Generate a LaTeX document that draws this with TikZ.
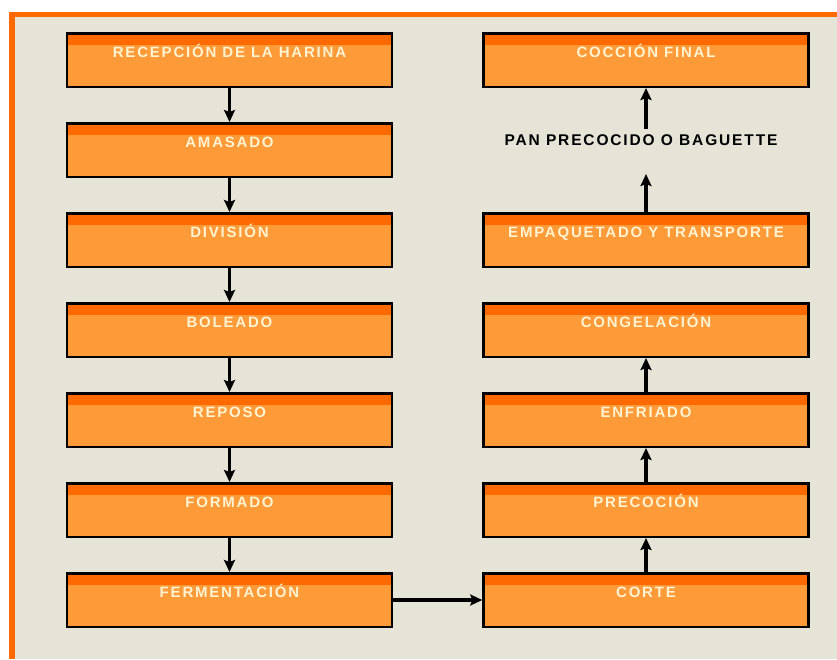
\documentclass[tikz,border=0pt]{standalone}
\usepackage{fontspec}
\setmainfont{Liberation Sans}
\newfontfamily\stepfont[LetterSpace=12]{Liberation Sans}
\usepackage{tikz}
\usetikzlibrary{positioning, calc, arrows.meta}

\definecolor{framebg}{HTML}{E6E4D6}
\definecolor{frameline}{HTML}{FF6A00}
\definecolor{boxfill}{HTML}{FF9A38}
\definecolor{boxband}{HTML}{FF6A00}
\definecolor{boxtext}{HTML}{FFF3D2}

\begin{document}
\begin{tikzpicture}[
  x=1pt, y=-1pt,
  node distance=34pt,
  >={Stealth[length=12pt, width=11pt, inset=2pt]},
  stepbox/.style={rectangle, draw=black, line width=2.5pt, fill=boxfill,
                  minimum width=325pt, text=boxtext,
                  font=\stepfont\bfseries\fontsize{15}{15}\selectfont,
                  text height=10.5pt, text depth=15pt, inner ysep=14pt,
                  path picture={\fill[boxband] (path picture bounding box.north west)
                    rectangle ([yshift=-12pt]path picture bounding box.north east);}},
  flow/.style={->, line width=3.5pt, black},
  outlabel/.style={font=\stepfont\bfseries\fontsize{15.5}{15.5}\selectfont, text=black}
]

% --- background and frame ---
\useasboundingbox (0,0) rectangle (837,659);
\fill[white] (0,0) rectangle (837,659);
\fill[frameline] (9,12) rectangle (837,659);
\fill[framebg] (15,17) rectangle (837,659);

% --- left column ---
\node[stepbox] (recep) at (229.5,60) {RECEPCIÓN DE LA HARINA};
\node[stepbox, below=of recep] (amas) {AMASADO};
\node[stepbox, below=of amas] (divis) {DIVISIÓN};
\node[stepbox, below=of divis] (bolea) {BOLEADO};
\node[stepbox, below=of bolea] (repos) {REPOSO};
\node[stepbox, below=of repos] (forma) {FORMADO};
\node[stepbox, below=of forma] (ferme) {FERMENTACIÓN};

% --- right column ---
\node[stepbox, right=89pt of ferme] (corte) {CORTE};
\node[stepbox, above=of corte] (preco) {PRECOCIÓN};
\node[stepbox, above=of preco] (enfri) {ENFRIADO};
\node[stepbox, above=of enfri] (conge) {CONGELACIÓN};
\node[stepbox, above=of conge] (empaq) {EMPAQUETADO Y TRANSPORTE};
\node[stepbox, right=89pt of recep] (coccion) {COCCIÓN FINAL};
\node[outlabel] (pan) at ([xshift=-5pt]coccion.center |- 0,140) {PAN PRECOCIDO O BAGUETTE};

% --- connectors ---
\foreach \a/\b in {recep/amas, amas/divis, divis/bolea, bolea/repos,
                   repos/forma, forma/ferme}
  \draw[flow] (\a.south) -- (\b.north);
\draw[flow] (ferme.east) -- (corte.west);
\foreach \a/\b in {corte/preco, preco/enfri, enfri/conge}
  \draw[flow] (\a.north) -- (\b.south);
\draw[flow] (empaq.north) -- ([yshift=-25pt]pan.south -| empaq.north);
\draw[flow] ([yshift=2pt]pan.north -| coccion.south) -- (coccion.south);

\end{tikzpicture}
\end{document}
